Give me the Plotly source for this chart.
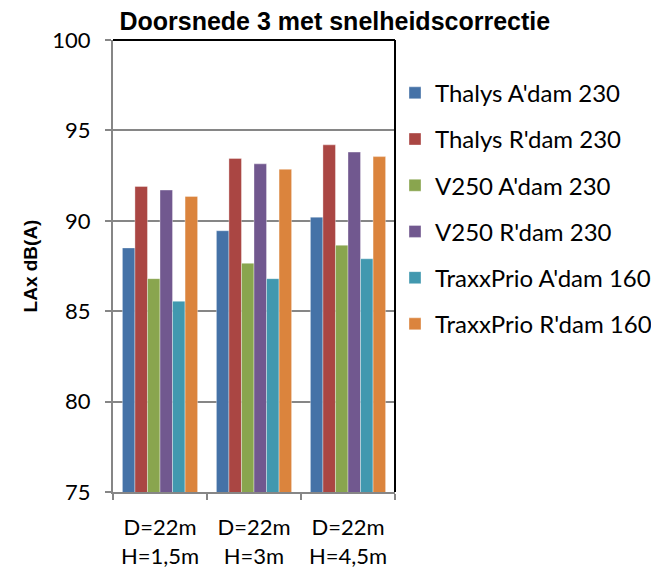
import plotly.graph_objects as go

# categories: first and second line of each label
cat_line1 = ["D=22m", "D=22m", "D=22m"]
cat_line2 = ["H=1,5m", "H=3m", "H=4,5m"]
categories = ["D=22m H=1,5m", "D=22m H=3m", "D=22m H=4,5m"]

series_names = ["Thalys A'dam 230", "Thalys R'dam 230", "V250 A'dam 230",
                "V250 R'dam 230", "TraxxPrio A'dam 160", "TraxxPrio R'dam 160"]
thalys_adam = [88.5, 89.45, 90.2]
thalys_rdam = [91.9, 93.45, 94.2]
v250_adam = [86.8, 87.65, 88.65]
v250_rdam = [91.7, 93.15, 93.8]
traxx_adam = [85.55, 86.8, 87.9]
traxx_rdam = [91.35, 92.85, 93.55]
series_values = [thalys_adam, thalys_rdam, v250_adam, v250_rdam, traxx_adam, traxx_rdam]
colors = ["#4572A7", "#AA4643", "#89A54E", "#71588F", "#4198AF", "#DB843D"]

y_ticks = [75, 80, 85, 90, 95, 100]

fig = go.Figure()
for i, (name, vals) in enumerate(zip(series_names, series_values)):
    fig.add_trace(go.Bar(
        x=categories, y=vals, name=name, legendgroup=f"g{i}",
        marker=dict(color=colors[i], line=dict(color="rgba(255,255,255,0.6)", width=0.6)),
    ))

# invisible trace carrying the second line of the category labels
fig.add_trace(go.Scatter(x=[0, 1, 2], y=[None, None, None], xaxis="x2",
                         showlegend=False, hoverinfo="skip"))

grey = "#868686"
# the page body adds ~8px, so the figure is 8px smaller than the window
fig.update_layout(
    width=651, height=566,
    paper_bgcolor="white", plot_bgcolor="white",
    margin=dict(l=105, r=264, t=32, b=82, autoexpand=False),
    barmode="group", bargap=0.2, bargroupgap=0,
    font=dict(family="Liberation Sans, Arial", color="black"),
    title=dict(text="<b>Doorsnede 3 met snelheidscorrectie</b>",
               x=0.502, xanchor="center", y=1 - 13 / 566, yanchor="middle",
               font=dict(size=25, family="Liberation Sans, Arial", color="black")),
    xaxis=dict(type="category", categoryarray=categories,
               tickmode="array", tickvals=categories, ticktext=cat_line1,
               showline=True, linecolor=grey, linewidth=2,
               ticks="outside", ticklen=6, tickcolor=grey, tickwidth=2,
               tickson="boundaries", showgrid=False, ticklabelstandoff=15,
               tickfont=dict(family="Lato, Open Sans", size=22), range=[-0.5, 2.5]),
    xaxis2=dict(overlaying="x", anchor="y", side="bottom", range=[-0.5, 2.5],
                tickmode="array", tickvals=[0, 1, 2], ticktext=cat_line2,
                showline=False, showgrid=False, zeroline=False, ticks="",
                ticklabelstandoff=49,
                tickfont=dict(family="Lato, Open Sans", size=22)),
    yaxis=dict(range=[75, 100], tickmode="array", tickvals=y_ticks,
               showline=True, linecolor=grey, linewidth=2,
               ticks="outside", ticklen=6, tickcolor=grey, tickwidth=2,
               showgrid=True, gridcolor=grey, gridwidth=1.5, zeroline=False,
               ticklabelstandoff=10,
               tickfont=dict(size=22, family="Lato, Open Sans"),
               title=dict(text="<b>LAx dB(A)</b>", standoff=10,
                          font=dict(size=19, family="Liberation Sans, Arial"))),
    legend=dict(x=1.0, xanchor="left", y=0.932, yanchor="top",
                font=dict(family="Lato, Open Sans", size=24),
                tracegroupgap=12, itemwidth=30, bgcolor="rgba(0,0,0,0)"),
    shapes=[
        dict(type="line", xref="paper", yref="paper", x0=0, x1=1, y0=1, y1=1,
             line=dict(color="black", width=2)),
        dict(type="line", xref="paper", yref="paper", x0=1, x1=1, y0=0, y1=1,
             line=dict(color="black", width=2)),
    ],
)

fig.write_html("out.html")
